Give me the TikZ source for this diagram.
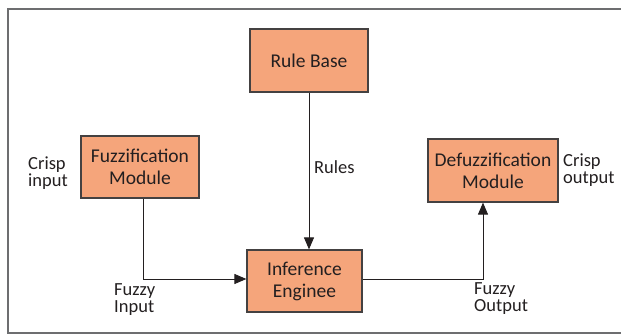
\documentclass[tikz,border=0pt]{standalone}
\usepackage{fontspec}
\setmainfont{Carlito}
\usetikzlibrary{arrows.meta}
\definecolor{boxfill}{HTML}{F5A57B}
\definecolor{ink}{HTML}{231F20}
\definecolor{framec}{HTML}{6D6E70}
\tikzset{
  blockbox/.style={draw=ink!85, line width=1.2pt, fill=boxfill, align=center, inner sep=0pt, text=ink,
    font=\fontsize{19.5}{22}\selectfont},
  lbl/.style={align=left, inner sep=0pt, anchor=west, text=ink, font=\fontsize{18.5}{17}\selectfont},
  conn/.style={draw=ink, line width=1pt},
  arr/.style={conn, -{Triangle[length=12pt,width=10pt]}}
}
\begin{document}
\begin{tikzpicture}[x=1pt,y=-1pt]
\useasboundingbox (0,0) rectangle (621,334);
% frame (right side outside picture)
\draw[framec, line width=1.2pt] (630,9) -- (8,9) -- (8,333) -- (630,333);
% blocks
\node[blockbox, minimum width=118pt, minimum height=63pt] (rb) at (309,60.5) {Rule Base};
\node[blockbox, minimum width=118pt, minimum height=62pt] (fz) at (140,167) {Fuzzification\\Module};
\node[blockbox, minimum width=130pt, minimum height=63pt] (dz) at (493,170.5) {Defuzzification\\Module};
\node[blockbox, minimum width=115pt, minimum height=62pt] (ie) at (304.5,281) {Inference\\Enginee};
% labels
\node[lbl] (ci) at (28,173.5) {Crisp\\input};
\node[lbl] (co) at (563,170.5) {Crisp\\output};
\node[lbl] (ru) at (314,167) {Rules};
\node[lbl] (fi) at (114,300) {Fuzzy\\Input};
\node[lbl] (fo) at (474,299) {Fuzzy\\Output};
% connectors
\draw[arr] (rb.south) -- (rb.south |- ie.north);
\draw[arr] ([xshift=3pt]fz.south) |- ([yshift=2pt]ie.west);
\draw[arr] ([yshift=2pt]ie.east) -| ([xshift=-10pt]dz.south);
\end{tikzpicture}
\end{document}
